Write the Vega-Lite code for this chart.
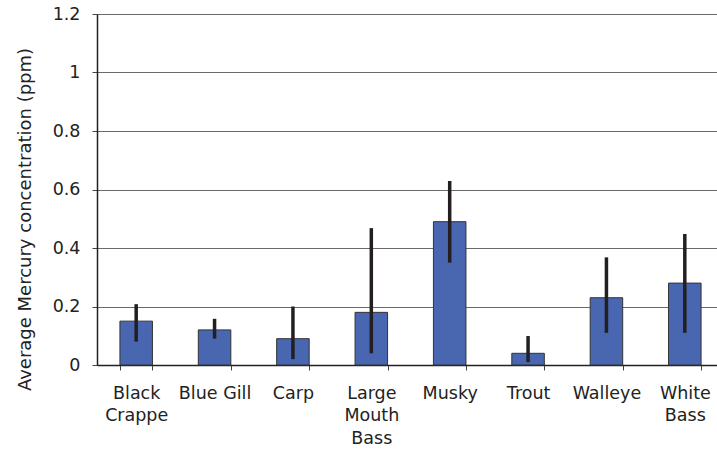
{
  "$schema": "https://vega.github.io/schema/vega-lite/v6.json",
  "autosize": "none",
  "padding": {"left": 97, "top": 14, "right": 0, "bottom": 84},
  "width": 627,
  "height": 351,
  "config": {
    "view": {"stroke": null},
    "font": "DejaVu Sans",
    "axis": {"labelFont": "DejaVu Sans", "titleFont": "DejaVu Sans", "labelColor": "#222", "titleColor": "#222"}
  },
  "data": {
    "values": [
      {"fish": "Black Crappe", "mean": 0.15, "low": 0.08, "high": 0.208},
      {"fish": "Blue Gill", "mean": 0.12, "low": 0.09, "high": 0.158},
      {"fish": "Carp", "mean": 0.09, "low": 0.02, "high": 0.2},
      {"fish": "Large Mouth Bass", "mean": 0.18, "low": 0.04, "high": 0.468},
      {"fish": "Musky", "mean": 0.49, "low": 0.35, "high": 0.629},
      {"fish": "Trout", "mean": 0.04, "low": 0.01, "high": 0.099},
      {"fish": "Walleye", "mean": 0.23, "low": 0.11, "high": 0.368},
      {"fish": "White Bass", "mean": 0.28, "low": 0.11, "high": 0.448}
    ]
  },
  "encoding": {
    "x": {
      "field": "fish", "type": "nominal", "sort": null,
      "scale": {"paddingInner": 0.585, "paddingOuter": 0.2925},
      "axis": {
        "title": null, "labelAngle": 0, "labelFontSize": 17.5, "labelPadding": 14,
        "labelExpr": "datum.value == 'Black Crappe' ? ['Black','Crappe'] : datum.value == 'Large Mouth Bass' ? ['Large','Mouth','Bass'] : datum.value == 'White Bass' ? ['White','Bass'] : datum.value",
        "labelLineHeight": 22.5,
        "domainColor": "#222", "domainWidth": 1.5,
        "tickBand": "extent", "tickColor": "#444", "tickSize": 5, "tickWidth": 1,
        "grid": false
      }
    }
  },
  "layer": [
    {
      "mark": {"type": "bar", "fill": "#4966b0", "stroke": "#333", "strokeWidth": 1},
      "encoding": {
        "y": {
          "field": "mean", "type": "quantitative",
          "scale": {"domain": [0, 1.2], "nice": false},
          "axis": {
            "title": "Average Mercury concentration (ppm)", "titleFontSize": 18, "titleFontWeight": "normal",
            "titleX": -72, "titleY": 205, "titleAlign": "center", "titleBaseline": "middle", "titleAngle": -90,
            "values": [0, 0.2, 0.4, 0.6, 0.8, 1, 1.2],
            "labelExpr": "datum.value == 0 ? '0' : datum.value == 1 ? '1' : format(datum.value, '.1f')",
            "labelFontSize": 17.5, "labelPadding": 12,
            "domainColor": "#222", "domainWidth": 1.5,
            "tickColor": "#444", "tickSize": 5,
            "grid": true, "gridColor": "#6a6a6a", "gridWidth": 1
          }
        }
      }
    },
    {
      "mark": {"type": "rule", "color": "#231f20", "strokeWidth": 3.5},
      "encoding": {
        "y": {"field": "low", "type": "quantitative"},
        "y2": {"field": "high"}
      }
    }
  ]
}
